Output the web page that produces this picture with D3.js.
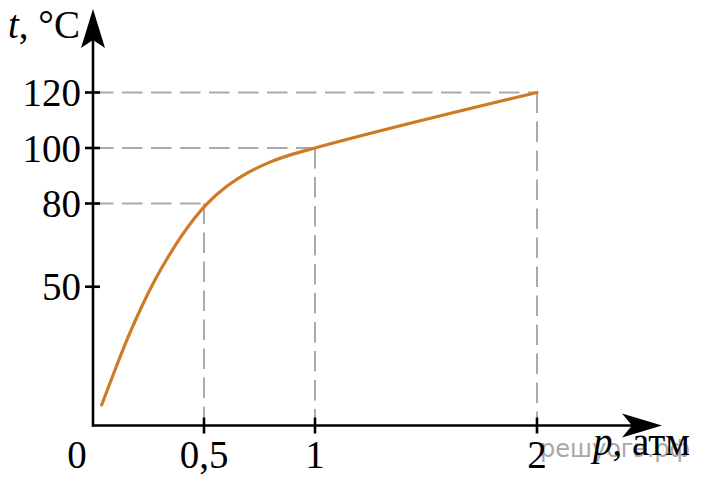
<!DOCTYPE html>
<html>
<head>
<meta charset="utf-8">
<script src="https://cdn.jsdelivr.net/npm/d3@7"></script>
<style>
  body { margin: 0; background: #fff; }
  text { font-family: "Liberation Serif", "Times New Roman", serif; }
</style>
</head>
<body>
<div id="chart"></div>
<script>
// curve: pressure (atm) vs boiling temperature (°C)
const pressure    = [0.039, 0.099, 0.159, 0.219, 0.279, 0.339, 0.399, 0.459, 0.52, 0.6, 0.7, 0.8, 0.9, 1, 2];
const temperature = [7.4, 20, 32, 42.8, 52.4, 60.8, 68.3, 74.9, 80.4, 86, 91.2, 95, 97.8, 100, 120];

// dashed guide points
const guideP = [0.5, 1, 2];
const guideT = [80, 100, 120];

const yTicks = [50, 80, 100, 120];
const xTicks = [0.5, 1, 2];
const xTickLabels = ["0,5", "1", "2"];

function drawChart() {
    const width = 706, height = 483;

    const svg = d3.select("#chart")
        .append("svg")
        .attr("width", width)
        .attr("height", height);

    const x = d3.scaleLinear().domain([0, 2]).range([93, 537]);
    const y = d3.scaleLinear().domain([0, 120]).range([425.5, 92.5]);

    const x0 = x(0), y0 = y(0);

    // watermark
    svg.append("text")
        .attr("x", 540)
        .attr("y", 457)
        .style("font-family", "'DejaVu Sans', sans-serif")
        .style("font-size", "24px")
        .attr("fill", "#a8a8a8")
        .text("решуогэ.рф");

    // dashed guides
    const guides = guideP.map((p, i) => ({p: p, t: guideT[i]}));
    const dash = svg.append("g")
        .attr("stroke", "#aaaaaa")
        .attr("stroke-width", 2)
        .attr("stroke-dasharray", "20.5,8.5")
        .attr("fill", "none");

    dash.selectAll(".h")
        .data(guides)
        .enter().append("line")
        .attr("x1", x0).attr("x2", d => x(d.p))
        .attr("y1", d => y(d.t)).attr("y2", d => y(d.t));

    dash.selectAll(".v")
        .data(guides)
        .enter().append("line")
        .attr("x1", d => x(d.p)).attr("x2", d => x(d.p))
        .attr("y1", d => y(d.t)).attr("y2", y0);

    // the curve
    const pts = pressure.map((p, i) => [p, temperature[i]]);
    svg.append("path")
        .datum(pts)
        .attr("fill", "none")
        .attr("stroke", "#cf7a27")
        .attr("stroke-width", 3.2)
        .attr("stroke-linecap", "round")
        .attr("d", d3.line()
            .x(d => x(d[0]))
            .y(d => y(d[1]))
            .curve(d3.curveMonotoneX));

    // axes
    const axes = svg.append("g").attr("stroke", "#000").attr("stroke-width", 2.6);
    axes.append("line").attr("x1", x0).attr("x2", 640).attr("y1", y0).attr("y2", y0);
    axes.append("line").attr("x1", x0).attr("x2", x0).attr("y1", y0 + 1.3).attr("y2", 30);

    svg.append("path")
        .attr("d", `M662,${y0} L622,${y0 - 12} L632,${y0} L622,${y0 + 12} Z`)
        .attr("fill", "#000");
    svg.append("path")
        .attr("d", `M${x0},9 L${x0 - 12},48 L${x0},40 L${x0 + 12},48 Z`)
        .attr("fill", "#000");

    // ticks
    axes.selectAll(".yt")
        .data(yTicks)
        .enter().append("line")
        .attr("x1", x0 - 8).attr("x2", x0 + 7)
        .attr("y1", d => y(d)).attr("y2", d => y(d));

    axes.selectAll(".xt")
        .data(xTicks)
        .enter().append("line")
        .attr("x1", d => x(d)).attr("x2", d => x(d))
        .attr("y1", y0 - 8).attr("y2", y0 + 8);

    // tick labels
    svg.selectAll(".yl")
        .data(yTicks)
        .enter().append("text")
        .attr("x", 81)
        .attr("y", d => y(d) + 13.5)
        .attr("text-anchor", "end")
        .style("font-size", "39px")
        .text(d => d);

    svg.selectAll(".xl")
        .data(xTicks)
        .enter().append("text")
        .attr("x", d => x(d))
        .attr("y", 468)
        .attr("text-anchor", "middle")
        .style("font-size", "39px")
        .text((d, i) => xTickLabels[i]);

    svg.append("text")
        .attr("x", 77)
        .attr("y", 468)
        .attr("text-anchor", "middle")
        .style("font-size", "39px")
        .text("0");

    // axis titles
    const yTitle = svg.append("text")
        .attr("x", 8)
        .attr("y", 38)
        .style("font-size", "39px");
    yTitle.append("tspan").style("font-style", "italic").text("t");
    yTitle.append("tspan").text(", °C");

    const xTitle = svg.append("text")
        .attr("x", 593)
        .attr("y", 455)
        .style("font-size", "39px");
    xTitle.append("tspan").style("font-style", "italic").text("p");
    xTitle.append("tspan").text(", атм");
}

drawChart();
</script>
</body>
</html>
